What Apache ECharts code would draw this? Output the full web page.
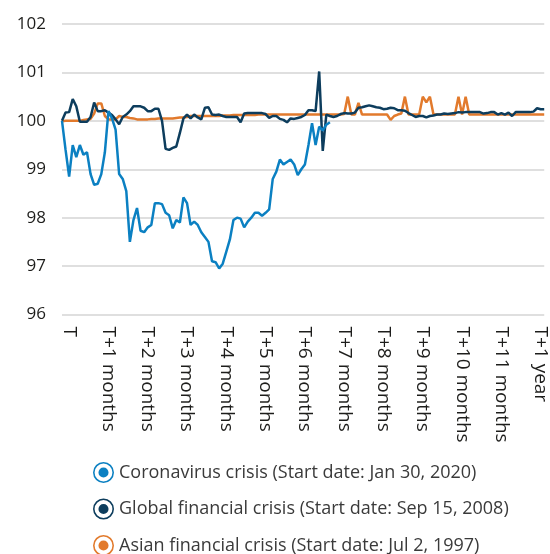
<!DOCTYPE html>
<html>
<head>
<meta charset="utf-8">
<script src="https://cdn.jsdelivr.net/npm/echarts@6/dist/echarts.min.js"></script>
<style>
  html, body { margin: 0; padding: 0; background: #fff; }
  #chart { width: 550px; height: 554px; }
</style>
</head>
<body>
<div id="chart"></div>
<script>
// month labels along the x axis, one every 11 steps (~2 trading days per step)
var monthLabels = ['T', 'T+1 months', 'T+2 months', 'T+3 months', 'T+4 months', 'T+5 months',
  'T+6 months', 'T+7 months', 'T+8 months', 'T+9 months', 'T+10 months', 'T+11 months', 'T+1 year'];
var stepsPerMonth = 11;
var nSteps = 136;

var yTicks = [96, 97, 98, 99, 100, 101, 102];

// Coronavirus crisis (Start date: Jan 30, 2020)
var coronaValues = [
  100.0, 99.4, 98.85, 99.5, 99.25, 99.5, 99.3, 99.35, 98.9, 98.68,
  98.7, 98.9, 99.35, 100.2, 100.05, 99.82, 98.9, 98.8, 98.55, 97.5,
  97.95, 98.2, 97.73, 97.7, 97.8, 97.85, 98.3, 98.3, 98.28, 98.1,
  98.05, 97.78, 97.95, 97.9, 98.42, 98.3, 97.85, 97.92, 97.85, 97.7,
  97.6, 97.5, 97.1, 97.08, 96.95, 97.05, 97.3, 97.55, 97.95, 98.0,
  97.98, 97.8, 97.92, 98.0, 98.1, 98.1, 98.04, 98.1, 98.17, 98.8,
  98.95, 99.2, 99.1, 99.15, 99.2, 99.1, 98.88, 99.0, 99.1, 99.5,
  99.95, 99.5, 99.88, 99.8, 99.92, 99.97
];

// Global financial crisis (Start date: Sep 15, 2008)
var globalValues = [
  100.0, 100.17, 100.18, 100.45, 100.3, 99.98, 99.98, 99.98, 100.08, 100.38,
  100.2, 100.2, 100.22, 100.17, 100.12, 100.03, 99.93, 100.08, 100.13, 100.2,
  100.3, 100.3, 100.3, 100.27, 100.2, 100.2, 100.25, 100.25, 100.0, 99.42,
  99.4, 99.44, 99.47, 99.75, 100.05, 100.13, 100.05, 100.13, 100.07, 100.03,
  100.27, 100.28, 100.13, 100.12, 100.13, 100.1, 100.08, 100.08, 100.08, 100.08,
  99.97, 100.15, 100.16, 100.16, 100.16, 100.16, 100.16, 100.14, 100.06, 100.1,
  100.1, 100.04, 100.02, 99.97, 100.05, 100.04, 100.06, 100.08, 100.12, 100.22,
  100.22, 100.2, 101.02, 99.38, 100.13, 100.1, 100.08, 100.1, 100.14, 100.16,
  100.15, 100.15, 100.17, 100.27, 100.28, 100.3, 100.32, 100.3, 100.28, 100.27,
  100.24, 100.25, 100.27, 100.26, 100.22, 100.22, 100.21, 100.16, 100.12, 100.08,
  100.1, 100.1, 100.07, 100.1, 100.11, 100.13, 100.13, 100.15, 100.14, 100.15,
  100.16, 100.18, 100.17, 100.18, 100.18, 100.18, 100.18, 100.18, 100.15, 100.16,
  100.18, 100.18, 100.13, 100.16, 100.13, 100.17, 100.1, 100.18, 100.18, 100.18,
  100.18, 100.18, 100.19, 100.26, 100.24, 100.24
];

// Asian financial crisis (Start date: Jul 2, 1997)
var asianValues = [
  99.99, 100.0, 100.0, 100.0, 100.0, 100.0, 100.02, 100.03, 100.04, 100.15,
  100.36, 100.36, 100.1, 100.03, 100.03, 100.03, 100.1, 100.08, 100.08, 100.06,
  100.05, 100.03, 100.03, 100.03, 100.03, 100.04, 100.04, 100.05, 100.05, 100.05,
  100.05, 100.05, 100.06, 100.07, 100.07, 100.08, 100.1, 100.1, 100.1, 100.1,
  100.1, 100.1, 100.1, 100.1, 100.1, 100.11, 100.11, 100.11, 100.12, 100.12,
  100.12, 100.12, 100.12, 100.12, 100.12, 100.13, 100.13, 100.13, 100.13, 100.13,
  100.13, 100.13, 100.13, 100.13, 100.13, 100.13, 100.13, 100.13, 100.13, 100.13,
  100.13, 100.13, 100.13, 100.13, 100.13, 100.13, 100.13, 100.13, 100.13, 100.14,
  100.5, 100.13, 100.13, 100.37, 100.13, 100.13, 100.13, 100.13, 100.13, 100.13,
  100.13, 100.13, 100.02, 100.1, 100.13, 100.15, 100.5, 100.13, 100.13, 100.13,
  100.13, 100.5, 100.38, 100.5, 100.13, 100.13, 100.13, 100.13, 100.13, 100.13,
  100.13, 100.5, 100.13, 100.5, 100.13, 100.13, 100.13, 100.13, 100.13, 100.13,
  100.13, 100.13, 100.13, 100.13, 100.13, 100.13, 100.13, 100.13, 100.13, 100.13,
  100.13, 100.13, 100.13, 100.13, 100.13, 100.13
];

var seriesNames = [
  'Coronavirus crisis (Start date: Jan 30, 2020)',
  'Global financial crisis (Start date: Sep 15, 2008)',
  'Asian financial crisis (Start date: Jul 2, 1997)'
];

var colors = {
  corona: '#0b80c2',
  global: '#0d3d5d',
  asian: '#e27a2c'
};

var categories = [];
for (var i = 0; i < nSteps; i++) {
  categories.push(i % stepsPerMonth === 0 ? (monthLabels[i / stepsPerMonth] || '') : '');
}

// ring + dot marker used in the legend
var ringDot = 'path://M10,0A10,10,0,1,1,10,20A10,10,0,1,1,10,0Z' +
  'M10,1.5A8.5,8.5,0,1,0,10,18.5A8.5,8.5,0,1,0,10,1.5Z' +
  'M10,5.2A4.8,4.8,0,1,1,10,14.8A4.8,4.8,0,1,1,10,5.2Z';

var font = "'Open Sans', sans-serif";

var chart = echarts.init(document.getElementById('chart'), null, { renderer: 'canvas' });

var option = {
  animation: false,
  backgroundColor: '#fff',
  textStyle: { fontFamily: font },
  grid: {
    left: 62,
    right: 0,
    top: 24,
    bottom: 239.5,
    containLabel: false
  },
  xAxis: {
    type: 'category',
    boundaryGap: false,
    data: categories,
    axisLine: { show: false },
    axisTick: { show: false },
    splitLine: { show: false },
    axisLabel: {
      interval: stepsPerMonth - 1,
      rotate: -90,
      margin: 12,
      fontSize: 19,
      color: '#1d1d1b',
      fontFamily: font,
      // nudge the rotated labels a little to the right of the category point
      verticalAlign: 'bottom',
      lineHeight: 14
    }
  },
  yAxis: {
    type: 'value',
    min: yTicks[0],
    max: yTicks[yTicks.length - 1],
    interval: 1,
    axisLine: { show: false },
    axisTick: { show: false },
    axisLabel: {
      margin: 16,
      fontSize: 17,
      color: '#1d1d1b',
      fontFamily: font
    },
    splitLine: {
      lineStyle: { color: '#d4d4d4', width: 1.5 }
    }
  },
  legend: {
    orient: 'vertical',
    left: 88,
    top: 457,
    height: 120,
    itemWidth: 21,
    itemHeight: 21,
    itemGap: 15.5,
    icon: ringDot,
    itemStyle: { borderWidth: 0 },
    textStyle: { fontSize: 18, color: '#3a3a3a', fontFamily: font },
    data: seriesNames
  },
  series: [
    {
      name: seriesNames[2],
      type: 'line',
      data: asianValues,
      showSymbol: false,
      lineStyle: { width: 2.5, color: colors.asian },
      itemStyle: { color: colors.asian }
    },
    {
      name: seriesNames[1],
      type: 'line',
      data: globalValues,
      showSymbol: false,
      lineStyle: { width: 2.5, color: colors.global },
      itemStyle: { color: colors.global }
    },
    {
      name: seriesNames[0],
      type: 'line',
      data: coronaValues,
      showSymbol: false,
      lineStyle: { width: 2.5, color: colors.corona },
      itemStyle: { color: colors.corona }
    }
  ]
};

chart.setOption(option);
</script>
</body>
</html>
